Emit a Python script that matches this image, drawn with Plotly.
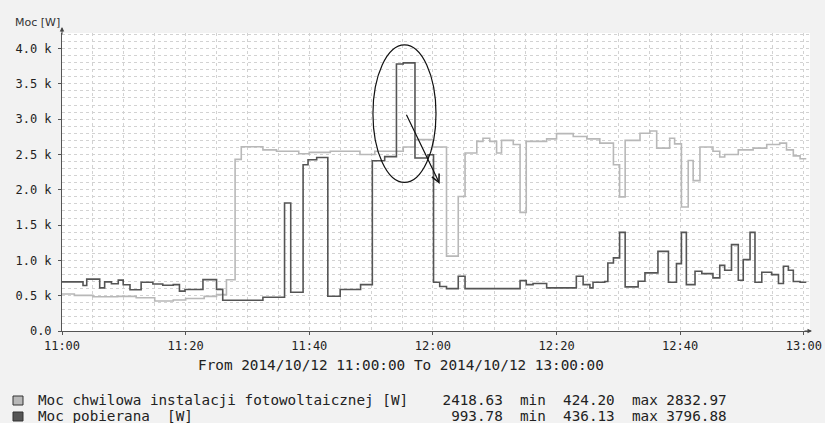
import pandas as pd
import plotly.graph_objects as go

# ---------------- data (minutes after 11:00, watts) ----------------
START = "2014-10-12 11:00:00"
pv_minutes = [0, 2, 5, 9, 12, 15, 18, 20, 23, 25, 26.6, 28, 29, 32.5, 34.7, 38.3, 40, 43.4, 48.2, 50.6,
              55.2, 57.1, 60, 62.2, 64.1, 65.2, 67.1, 68.1, 69.2, 70.3, 71.1, 73, 74.1, 75.1, 78.4, 80,
              82.7, 84.9, 87, 89.2, 90.2, 91.1, 93.5, 95.1, 96.2, 98.3, 99.1, 100.2, 101.3, 102.1,
              103.2, 105.3, 106.4, 107.2, 109.4, 111.8, 114, 116.1, 117.2, 118.3, 119.4, 120.4]
pv_watts = [525, 505, 485, 490, 470, 425, 440, 460, 490, 515, 725, 2430, 2610, 2565, 2545, 2510, 2530,
            2545, 2500, 2545, 2605, 2710, 2605, 1060, 1905, 2520, 2685, 2730, 2685, 2520, 2700, 2640,
            1680, 2685, 2720, 2795, 2755, 2720, 2660, 2355, 1900, 2700, 2800, 2833, 2590, 2730, 2650,
            1755, 2415, 2130, 2605, 2545, 2465, 2500, 2565, 2590, 2640, 2660, 2565, 2480, 2440, 2440]

grid_minutes = [0, 3.4, 4, 6.1, 6.9, 8, 9.1, 9.9, 11, 12.8, 14.7, 16.3, 18, 19, 19.9, 22.8, 25, 26, 32.5,
                36, 37, 39, 39.8, 41.2, 43, 45, 48.3, 50.2, 52.2, 54.1, 55.2, 57.1, 59.2, 60.1, 61.1,
                62.2, 64.1, 65.2, 74.1, 75.1, 76.2, 78.4, 83.2, 84.3, 85.4, 85.9, 87.8, 88.3, 89.2, 90.2,
                91.1, 93.2, 94.3, 96.4, 98.1, 99.4, 100.2, 101, 102.4, 103.5, 105.3, 106.4, 107.2, 108.3,
                109.4, 110.2, 111.3, 112.1, 113.2, 114.8, 115.9, 116.7, 117.5, 118.3, 119.4, 120.4]
grid_watts = [695, 645, 735, 610, 695, 670, 720, 655, 585, 690, 665, 648, 657, 565, 587, 728, 590, 436, 478,
              1813, 549, 2355, 2425, 2458, 492, 587, 657, 2410, 2470, 3780, 3797, 2450, 2496, 690, 630,
              600, 775, 600, 714, 657, 672, 611, 776, 657, 611, 690, 700, 964, 1035, 1397, 625, 704, 823,
              1128, 690, 954, 1397, 657, 846, 813, 752, 930, 860, 1223, 718, 1011, 1397, 690, 832, 799,
              672, 916, 860, 700, 690, 690]

y_tick_values = [0, 500, 1000, 1500, 2000, 2500, 3000, 3500, 4000]
y_tick_labels = ["0.0", "0.5 k", "1.0 k", "1.5 k", "2.0 k", "2.5 k", "3.0 k", "3.5 k", "4.0 k"]

series_names = ["Moc chwilowa instalacji fotowoltaicznej [W]", "Moc pobierana  [W]"]
series_last = ["2418.63", "993.78"]
series_min = ["424.20", "436.13"]
series_max = ["2832.97", "3796.88"]
period_text = "From 2014/10/12 11:00:00 To 2014/10/12 13:00:00"

# annotation: ellipse (minutes / watts) and arrow
ellipse_minutes = (50.3, 60.5)
ellipse_watts = (2104, 4051)
arrow_from = (55.6, 3085)
arrow_to = (61.1, 2083)

# ---------------- figure ----------------
base = pd.Timestamp(START)
def when(m):
    return base + pd.Timedelta(minutes=m)

W, H = 825, 423
ML, MR, MT, MB = 62, 15, 33, 92
PW, PH = W - ML - MR, H - MT - MB
def px(x):
    return (x - ML) / PW
def py(y):
    return (H - MB - y) / PH

PV_COLOR = "#b8b8b8"
GRID_COLOR = "#555555"
MONO = "DejaVu Sans Mono"

fig = go.Figure()
fig.add_trace(go.Scatter(x=[when(m) for m in pv_minutes], y=pv_watts, mode="lines",
                         line=dict(color=PV_COLOR, width=1.6, shape="hv"), hoverinfo="skip"))
fig.add_trace(go.Scatter(x=[when(m) for m in grid_minutes], y=grid_watts, mode="lines",
                         line=dict(color=GRID_COLOR, width=1.6, shape="hv"), hoverinfo="skip"))

gridstyle = dict(showgrid=True, gridcolor="#d2d2d2", griddash="dot", gridwidth=1)
fig.update_layout(
    width=W, height=H, margin=dict(l=ML, r=MR, t=MT, b=MB, autoexpand=False),
    paper_bgcolor="#f2f2f2", plot_bgcolor="#ffffff", showlegend=False,
    xaxis=dict(type="date", range=[when(0), when(121)], tickformat="%H:%M", automargin=False,
               tick0=when(0), dtick=20 * 60 * 1000, **gridstyle,
               minor=dict(dtick=5 * 60 * 1000, tick0=when(0), showgrid=True,
                          gridcolor="#d2d2d2", griddash="dot"),
               showline=True, linecolor="#555555", linewidth=1, zeroline=False,
               ticks="outside", ticklen=3, tickcolor="#555555", ticklabelstandoff=1,
               tickfont=dict(family=MONO, size=12, color="#222222")),
    yaxis=dict(range=[0, 4220], tickvals=y_tick_values, ticktext=y_tick_labels, **gridstyle,
               automargin=False,
               minor=dict(dtick=100, tick0=0, showgrid=True, gridcolor="#d2d2d2", griddash="dot"),
               showline=True, linecolor="#555555", linewidth=1, zeroline=False,
               ticks="outside", ticklen=3, tickcolor="#555555", ticklabelstandoff=4,
               tickfont=dict(family=MONO, size=12, color="#222222")),
)

# ellipse + arrow annotation
fig.add_shape(type="circle", xref="x", yref="y",
              x0=when(ellipse_minutes[0]), x1=when(ellipse_minutes[1]),
              y0=ellipse_watts[0], y1=ellipse_watts[1],
              line=dict(color="#111111", width=1.2), layer="above")
fig.add_annotation(x=when(arrow_to[0]), y=arrow_to[1], ax=when(arrow_from[0]), ay=arrow_from[1],
                   xref="x", yref="y", axref="x", ayref="y", text="", showarrow=True,
                   arrowhead=5, arrowsize=1.3, arrowwidth=1.2, arrowcolor="#111111", standoff=0)

# axis arrows
fig.add_annotation(x=0, y=py(27), xref="paper", yref="paper", ax=0, ay=9, text="", showarrow=True,
                   arrowhead=2, arrowsize=0.9, arrowwidth=1, arrowcolor="#444444", standoff=0)
fig.add_annotation(x=px(812), y=0, xref="paper", yref="paper", ax=-9, ay=0, text="", showarrow=True,
                   arrowhead=2, arrowsize=0.9, arrowwidth=1, arrowcolor="#444444", standoff=0)

# unit label
fig.add_annotation(x=px(37), y=py(22.5), xref="paper", yref="paper", text="Moc [W]", showarrow=False,
                   font=dict(family="DejaVu Sans", size=11, color="#333333"),
                   xanchor="center", yanchor="middle")

# period text
fig.add_annotation(x=px(401), y=py(364.5), xref="paper", yref="paper", text=period_text,
                   showarrow=False, font=dict(family=MONO, size=14.35, color="#222222"),
                   xanchor="center", yanchor="middle")

# legend rows
NB = "\u00a0"
rows_y = [399.5, 415.5]
box_y = [(396, 405), (412, 421)]
colors = [PV_COLOR, GRID_COLOR]
for i in range(2):
    name = series_names[i]
    text = (name + NB * (47 - len(name)) + series_last[i].rjust(7, NB) + NB * 2 + "min" + NB * 2 +
            series_min[i].rjust(6, NB) + NB * 2 + "max" + NB + series_max[i])
    fig.add_annotation(x=px(36), y=py(rows_y[i]), xref="paper", yref="paper", text=text,
                       showarrow=False, font=dict(family=MONO, size=14.3, color="#222222"),
                       xanchor="left", yanchor="middle")
    fig.add_shape(type="rect", xref="paper", yref="paper", x0=px(13), x1=px(23),
                  y0=py(box_y[i][1]), y1=py(box_y[i][0]),
                  fillcolor=colors[i], line=dict(color="#333333", width=1))

fig.write_html("out.html", config={"displayModeBar": False},
               post_script="document.body.style.margin='0px';"
               "document.body.style.overflow='hidden';")
